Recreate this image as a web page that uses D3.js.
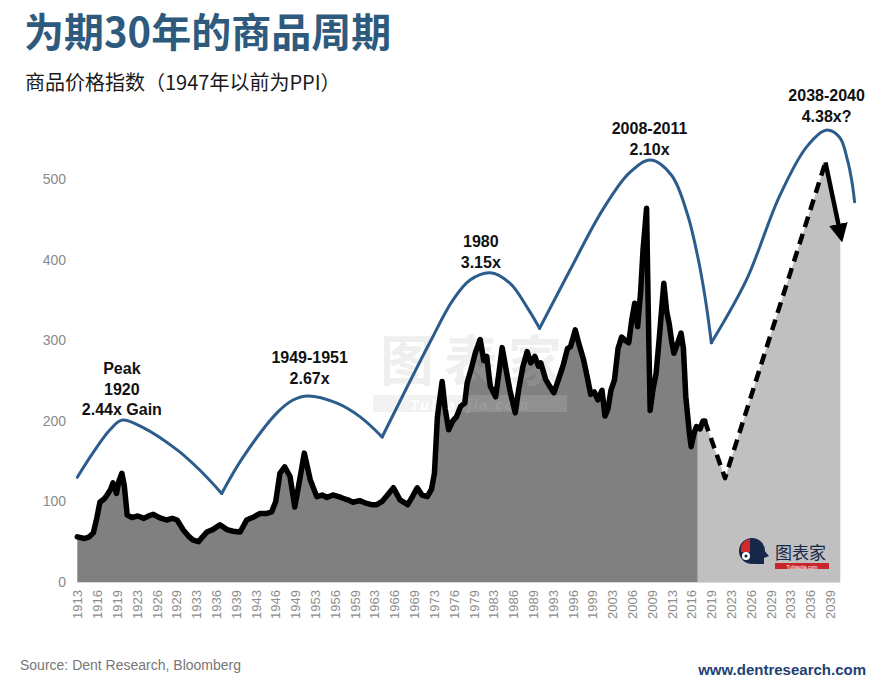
<!DOCTYPE html>
<html>
<head>
<meta charset="utf-8">
<script src="https://cdn.jsdelivr.net/npm/d3@7/dist/d3.min.js"></script>
<style>
  html, body { margin: 0; padding: 0; background: #ffffff; }
  svg { display: block; }
</style>
</head>
<body>
<svg id="chart" width="880" height="687"></svg>
<script>
// ---------------- DATA ----------------
const titleText = "为期30年的商品周期";
const subtitleText = "商品价格指数（1947年以前为PPI）";
const sourceText = "Source: Dent Research, Bloomberg";
const siteText = "www.dentresearch.com";

const yTickValues = [0, 100, 200, 300, 400, 500];
const xTickLabels = ["1913","1916","1919","1923","1926","1929","1933","1936","1939","1943",
  "1946","1949","1953","1956","1959","1963","1966","1969","1973","1976","1979","1983",
  "1986","1989","1993","1996","1999","2003","2006","2009","2013","2016","2019","2023",
  "2026","2029","2033","2036","2039"];

// Commodity price index
const priceYears = [1913.0,1914.2,1915.0,1915.7,1916.3,1916.8,1917.5,1918.0,1918.6,1919.0,1919.6,1920.0,1920.5,1920.9,1921.4,
  1922.2,1923.2,1924.2,1925.0,1925.8,1926.8,1928.0,1929.0,1929.8,1930.8,1931.7,1932.5,1933.4,1934.2,1934.8,1935.8,1937.0,
  1938.2,1939.2,1940.4,1941.5,1942.5,1943.7,1944.8,1945.7,1946.4,1947.1,1947.9,1948.8,1949.6,1950.5,1951.2,1952.2,1953.3,
  1954.2,1955.0,1956.0,1957.0,1957.7,1958.5,1959.4,1960.5,1961.5,1962.5,1963.4,1964.3,1965.2,1966.2,1967.3,1968.6,1969.4,
  1970.2,1971.0,1971.9,1972.6,1973.1,1973.6,1974.4,1974.9,1975.5,1976.2,1976.8,1977.5,1978.2,1978.6,1979.3,1980.0,1980.8,
  1981.4,1981.9,1982.5,1983.4,1984.0,1984.5,1985.2,1985.8,1986.7,1987.3,1988.0,1988.7,1989.3,1990.0,1990.6,1991.0,1991.8,
  1992.5,1993.2,1994.0,1994.8,1995.5,1996.0,1996.8,1997.4,1998.2,1998.8,1999.4,2000.0,2000.6,2001.3,2001.8,2002.3,2002.8,
  2003.4,2004.0,2004.6,2005.2,2005.8,2006.3,2006.8,2007.3,2007.8,2008.2,2008.8,2009.1,2009.4,2009.9,2010.4,2010.9,2011.7,
  2012.2,2012.6,2013.0,2013.4,2014.0,2014.6,2015.0,2015.4,2016.0,2016.3,2016.8,2017.2,2017.8,2018.3,2018.6];
const priceValues = [56,54,56,61,80,99,103,108,115,123,110,125,135,120,83,
  80,82,79,82,84,80,77,79,77,65,57,52,50,57,62,65,71,
  65,63,62,77,80,85,85,87,100,135,143,131,93,130,160,127,106,
  108,105,108,106,104,102,99,101,98,96,96,100,108,117,102,96,106,
  117,108,106,115,135,205,249,215,189,200,205,218,222,247,265,285,301,
  275,280,243,230,262,291,262,238,210,240,268,286,272,280,268,272,252,
  243,235,252,270,290,292,313,296,276,255,233,236,226,238,206,215,238,
  251,290,304,300,297,325,346,317,360,412,464,330,213,240,259,300,371,
  335,321,300,284,296,309,290,230,185,168,185,193,190,200,200];
const actualEndYear = 2017.4;   // end of dark (history) shading

// Projection (dashed) and the final down arrow
const forecastYears = [2018.6, 2022.0, 2038.9];
const forecastValues = [200, 129, 521];
const arrowYears = [2038.9, 2041.4];
const arrowValues = [521, 433];

// 30-year cycle curve (blue), split into arcs at the troughs
const cycleArcs = [
  { years: [1913.0,1915.6,1918.5,1920.5,1924.0,1929.8,1933.6,1937.3], values: [130,160,189,201,192,164,139,110] },
  { years: [1937.3,1940.9,1946.6,1949.3,1951.8,1956.7,1960.6,1964.3], values: [110,155,210,226,231,222,205,180] },
  { years: [1964.3,1972.3,1976.2,1979.1,1982.5,1985.8,1988.7,1990.8], values: [180,297,350,375,384,371,341,315] },
  { years: [1990.8,1995.9,2001.4,2005.9,2009.5,2013.0,2015.7,2017.6,2018.8,2019.7], values: [315,387,462,508,524,505,456,397,346,297] },
  { years: [2019.7,2025.6,2031.1,2035.7,2039.0,2041.3,2042.6,2043.4,2043.8], values: [297,375,478,540,561,552,524,495,472] }
];

// Cycle annotations: text lines, and the year / value where the last line sits
const annotLines = [["Peak","1920","2.44x Gain"], ["1949-1951","2.67x"], ["1980","3.15x"], ["2008-2011","2.10x"], ["2038-2040","4.38x?"]];
const annotYears = [1920.5, 1952.1, 1980.9, 2009.3, 2039.1];
const annotValues = [207, 246, 390, 530, 571];

// ---------------- CHART ----------------
const svg = d3.select("#chart");
const latin = "'Liberation Sans', Arial, Helvetica, sans-serif";
const cjk = "'Noto Sans CJK SC', 'Noto Sans', sans-serif";

const x = d3.scaleLinear().domain([1913, 2039 + 2/3]).range([77.3, 830]);
const y = d3.scaleLinear().domain([0, 500]).range([582, 179.3]);
const xLabels = d3.scalePoint().domain(xTickLabels).range([x.range()[0], x.range()[1]]);

// Title & subtitle
svg.append("text").attr("x", 24).attr("y", 47)
  .attr("font-family", cjk).attr("font-weight", 700).attr("font-size", 40)
  .attr("fill", "#2e5a7e").text(titleText);
svg.append("text").attr("x", 25).attr("y", 90)
  .attr("font-family", cjk).attr("font-size", 20)
  .attr("fill", "#1a1a1a").text(subtitleText);

const price = priceYears.map((yr, i) => ({ yr, v: priceValues[i] }));
const forecast = forecastYears.map((yr, i) => ({ yr, v: forecastValues[i] }));
const arrowPts = arrowYears.map((yr, i) => ({ yr, v: arrowValues[i] }));

const defs = svg.append("defs");
defs.append("clipPath").attr("id", "histClip").append("rect")
  .attr("x", 0).attr("y", 0).attr("width", x(actualEndYear)).attr("height", 687);
defs.append("clipPath").attr("id", "futClip").append("rect")
  .attr("x", x(actualEndYear)).attr("y", 0).attr("width", 880 - x(actualEndYear)).attr("height", 687);
defs.append("marker").attr("id", "arrowHead")
  .attr("viewBox", "0 0 10 10").attr("refX", 5).attr("refY", 5)
  .attr("markerWidth", 4.2).attr("markerHeight", 4.2).attr("orient", "auto")
  .attr("markerUnits", "strokeWidth")
  .append("path").attr("d", "M0,0 L10,5 L0,10 Z").attr("fill", "#000");

const area = d3.area().x(d => x(d.yr)).y0(y(0)).y1(d => y(d.v));
const line = d3.line().x(d => x(d.yr)).y(d => y(d.v));

// Future (light grey) area
const futurePts = price.filter(d => d.yr >= 2016.8).concat(forecast.slice(1), arrowPts.slice(1));
svg.append("path").datum(futurePts).attr("clip-path", "url(#futClip)")
  .attr("d", area).attr("fill", "#c0c0c0");

// History (dark grey) area
svg.append("path").datum(price).attr("clip-path", "url(#histClip)")
  .attr("d", area).attr("fill", "#808080");

// Watermark (faint)
const wm = svg.append("g").attr("opacity", 0.22);
wm.append("text").attr("x", 476).attr("y", 381).attr("text-anchor", "middle")
  .attr("font-family", cjk).attr("font-weight", 700).attr("font-size", 54)
  .attr("letter-spacing", 10).attr("fill", "#b8b8b8").text("图表家");
wm.append("rect").attr("x", 373).attr("y", 395).attr("width", 194).attr("height", 17).attr("fill", "#c8c8c8");
wm.append("text").attr("x", 470).attr("y", 410).attr("text-anchor", "middle")
  .attr("font-family", latin).attr("font-weight", 700).attr("font-style", "italic").attr("font-size", 14)
  .attr("letter-spacing", 2).attr("fill", "#ffffff").text("Tubiaojia.com");

// Black history line
svg.append("path").datum(price).attr("d", line)
  .attr("fill", "none").attr("stroke", "#000").attr("stroke-width", 5.5)
  .attr("stroke-linejoin", "round").attr("stroke-linecap", "round");

// Dashed projection
svg.append("path").datum(forecast).attr("d", line)
  .attr("fill", "none").attr("stroke", "#000").attr("stroke-width", 4.5)
  .attr("stroke-dasharray", "11,7").attr("stroke-linejoin", "round");

// Final down arrow
svg.append("path").datum(arrowPts).attr("d", line)
  .attr("fill", "none").attr("stroke", "#000").attr("stroke-width", 4.5)
  .attr("marker-end", "url(#arrowHead)");

// Blue cycle curve
const cycleLine = d3.line().x(d => x(d.yr)).y(d => y(d.v)).curve(d3.curveCatmullRom.alpha(0.5));
cycleArcs.forEach(arc => {
  const pts = arc.years.map((yr, i) => ({ yr, v: arc.values[i] }));
  svg.append("path").datum(pts).attr("d", cycleLine)
    .attr("fill", "none").attr("stroke", "#2c5c8c").attr("stroke-width", 3)
    .attr("stroke-linejoin", "round").attr("stroke-linecap", "round");
});

// Annotations
annotLines.forEach((lines, i) => {
  const t = svg.append("text").attr("text-anchor", "middle")
    .attr("font-family", latin).attr("font-weight", 700).attr("font-size", 16)
    .attr("fill", "#111");
  const n = lines.length;
  lines.forEach((s, j) => {
    t.append("tspan").attr("x", x(annotYears[i]))
      .attr("y", y(annotValues[i]) - (n - 1 - j) * 20.7).text(s);
  });
});

// Y axis
const yAxis = svg.append("g").attr("transform", "translate(66,0)")
  .call(d3.axisLeft(y).tickValues(yTickValues).tickSize(0).tickPadding(0));
yAxis.select(".domain").remove();
yAxis.selectAll("text").attr("font-family", latin).attr("font-size", 14).attr("fill", "#8a8a8a");

// X axis
const xAxis = svg.append("g").attr("transform", `translate(0,${y(0)})`)
  .call(d3.axisBottom(xLabels).tickSize(0));
xAxis.select(".domain").attr("stroke", "#d9d9d9").attr("stroke-width", 1)
  .attr("d", `M${x(1913)},0.5H${x(2041.4)}`);
xAxis.selectAll("text")
  .attr("transform", "rotate(-90)").attr("text-anchor", "end")
  .attr("x", -8).attr("y", 0).attr("dy", "0.35em")
  .attr("font-family", latin).attr("font-size", 13).attr("fill", "#8c8c8c");

// Logo (bottom right)
const logo = svg.append("g");
logo.append("circle").attr("cx", 752).attr("cy", 551).attr("r", 13).attr("fill", "#16284a");
logo.append("path").attr("d", "M762,548 L769,556 L764,558 L764,564 L754,564 Z").attr("fill", "#16284a");
logo.append("path").attr("d", "M741,546 A12,12 0 0,1 750,539 L750,552 L741,552 Z").attr("fill", "#d22a2a");
logo.append("circle").attr("cx", 746).attr("cy", 556).attr("r", 4).attr("fill", "#fff");
logo.append("circle").attr("cx", 746).attr("cy", 556).attr("r", 1.6).attr("fill", "#16284a");
logo.append("text").attr("x", 775).attr("y", 558.5)
  .attr("font-family", cjk).attr("font-size", 17).attr("fill", "#16284a").text("图表家");
logo.append("rect").attr("x", 775).attr("y", 563).attr("width", 54).attr("height", 6).attr("fill", "#c8262a");
logo.append("text").attr("x", 802).attr("y", 568.8).attr("text-anchor", "middle")
  .attr("font-family", latin).attr("font-size", 5).attr("fill", "#fff").text("Tubiaojia.com");

// Footer
svg.append("text").attr("x", 20).attr("y", 670)
  .attr("font-family", latin).attr("font-size", 14).attr("fill", "#777").text(sourceText);
svg.append("text").attr("x", 866).attr("y", 675).attr("text-anchor", "end")
  .attr("font-family", latin).attr("font-weight", 700).attr("font-size", 15)
  .attr("fill", "#1f3f73").text(siteText);
</script>
</body>
</html>
